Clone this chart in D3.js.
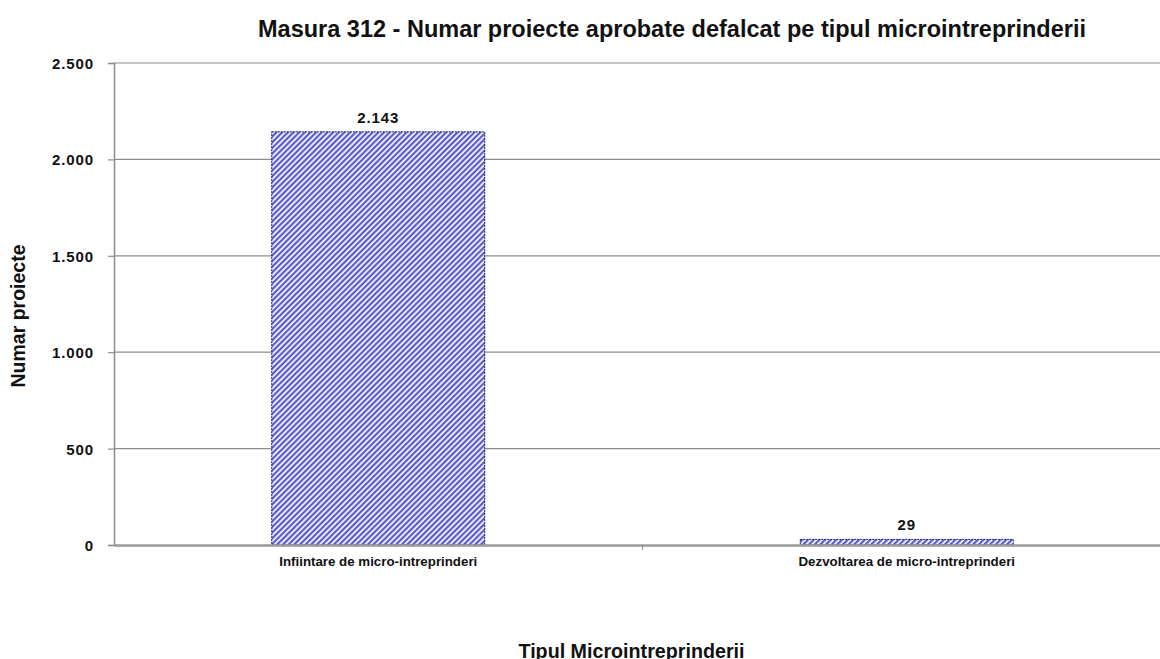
<!DOCTYPE html>
<html><head><meta charset="utf-8">
<script src="https://cdn.jsdelivr.net/npm/d3@7"></script>
<style>
html,body{margin:0;padding:0;background:#fff;}
text{font-family:"Liberation Sans",Arial,sans-serif;font-weight:bold;fill:#111;}
</style></head>
<body><svg id="c" width="1160" height="659"></svg>
<script>
const categories = ["Infiintare de micro-intreprinderi", "Dezvoltarea de micro-intreprinderi"];
const values = [2143, 29];
const valueLabels = ["2.143", "29"];
const yTicks = [0, 500, 1000, 1500, 2000, 2500];
const yTickLabels = ["0", "500", "1.000", "1.500", "2.000", "2.500"];
const title = "Masura 312 - Numar proiecte aprobate defalcat pe tipul microintreprinderii";
const yTitle = "Numar proiecte";
const xTitle = "Tipul Microintreprinderii";

const svg = d3.select("#c");
const m = {left:114, right:1171, top:63, bottom:545};

const defs = svg.append("defs");
const pat = defs.append("pattern").attr("id","hatch").attr("patternUnits","userSpaceOnUse")
  .attr("width",4).attr("height",4).attr("patternTransform","rotate(45)");
pat.append("rect").attr("width",4).attr("height",4).attr("fill","#ffffff");
pat.append("rect").attr("x",0).attr("width",2.3).attr("height",4).attr("fill","#5b5bd0");

const x = d3.scaleBand().domain(categories).range([m.left, m.right]).paddingInner(0.597).paddingOuter(0.2985);
const y = d3.scaleLinear().domain([0,2500]).range([m.bottom, m.top]);

// gridlines
svg.append("g").selectAll("line").data(yTicks.filter(d=>d>0)).join("line")
  .attr("x1",m.left).attr("x2",m.right).attr("y1",d=>y(d)).attr("y2",d=>y(d))
  .attr("stroke","#8c8c8c").attr("stroke-width",1.2);

// y axis
const yAxis = d3.axisLeft(y).tickValues(yTicks).tickSize(6).tickPadding(14)
  .tickFormat((d,i)=>yTickLabels[i]);
const gy = svg.append("g").attr("transform",`translate(${m.left},0)`).call(yAxis);
gy.select(".domain").attr("stroke","#8c8c8c").attr("stroke-width",1.5);
gy.selectAll(".tick line").attr("stroke","#8c8c8c").attr("stroke-width",1.2);
gy.selectAll(".tick text").attr("font-size",15).attr("font-family","Liberation Sans, Arial, sans-serif")
  .attr("font-weight","bold").attr("fill","#222").attr("letter-spacing",0.9).attr("dy","0.36em");

// bars
svg.append("g").selectAll("rect").data(values).join("rect")
  .attr("x",(d,i)=>x(categories[i])).attr("width",x.bandwidth())
  .attr("y",d=>y(d)).attr("height",d=>y(0)-y(d))
  .attr("fill","url(#hatch)").attr("stroke","#1a1a60").attr("stroke-width",1).attr("stroke-dasharray","2,1");

// x axis
const xAxis = d3.axisBottom(x).tickSize(0).tickPadding(10);
const gx = svg.append("g").attr("transform",`translate(0,${m.bottom})`).call(xAxis);
gx.select(".domain").attr("stroke","#9a9a9a").attr("stroke-width",2.5);
gx.selectAll(".tick text").attr("font-size",13.3).attr("font-family","Liberation Sans, Arial, sans-serif")
  .attr("font-weight","bold").attr("fill","#222").attr("dy","0.82em");
// category separator tick
const b0 = x(categories[0]) + x.bandwidth();
const seps = [b0 + (x(categories[1]) - b0)/2];
svg.append("g").selectAll("line").data(seps).join("line")
  .attr("x1",d=>d).attr("x2",d=>d).attr("y1",m.bottom).attr("y2",m.bottom+5)
  .attr("stroke","#8c8c8c");

// value labels
svg.append("g").selectAll("text").data(values).join("text")
  .attr("x",(d,i)=>x(categories[i])+x.bandwidth()/2).attr("y",d=>y(d)-9)
  .attr("text-anchor","middle").attr("font-size",15).attr("letter-spacing",0.9)
  .text((d,i)=>valueLabels[i]);

// title
svg.append("text").attr("x",258).attr("y",36.5).attr("text-anchor","start")
  .attr("font-size",23.5).text(title);
// y title
svg.append("text").attr("transform","translate(25,316) rotate(-90)").attr("text-anchor","middle")
  .attr("font-size",19.5).text(yTitle);
// x title
svg.append("text").attr("x",631.5).attr("y",658).attr("text-anchor","middle")
  .attr("font-size",19.7).text(xTitle);
</script></body></html>
